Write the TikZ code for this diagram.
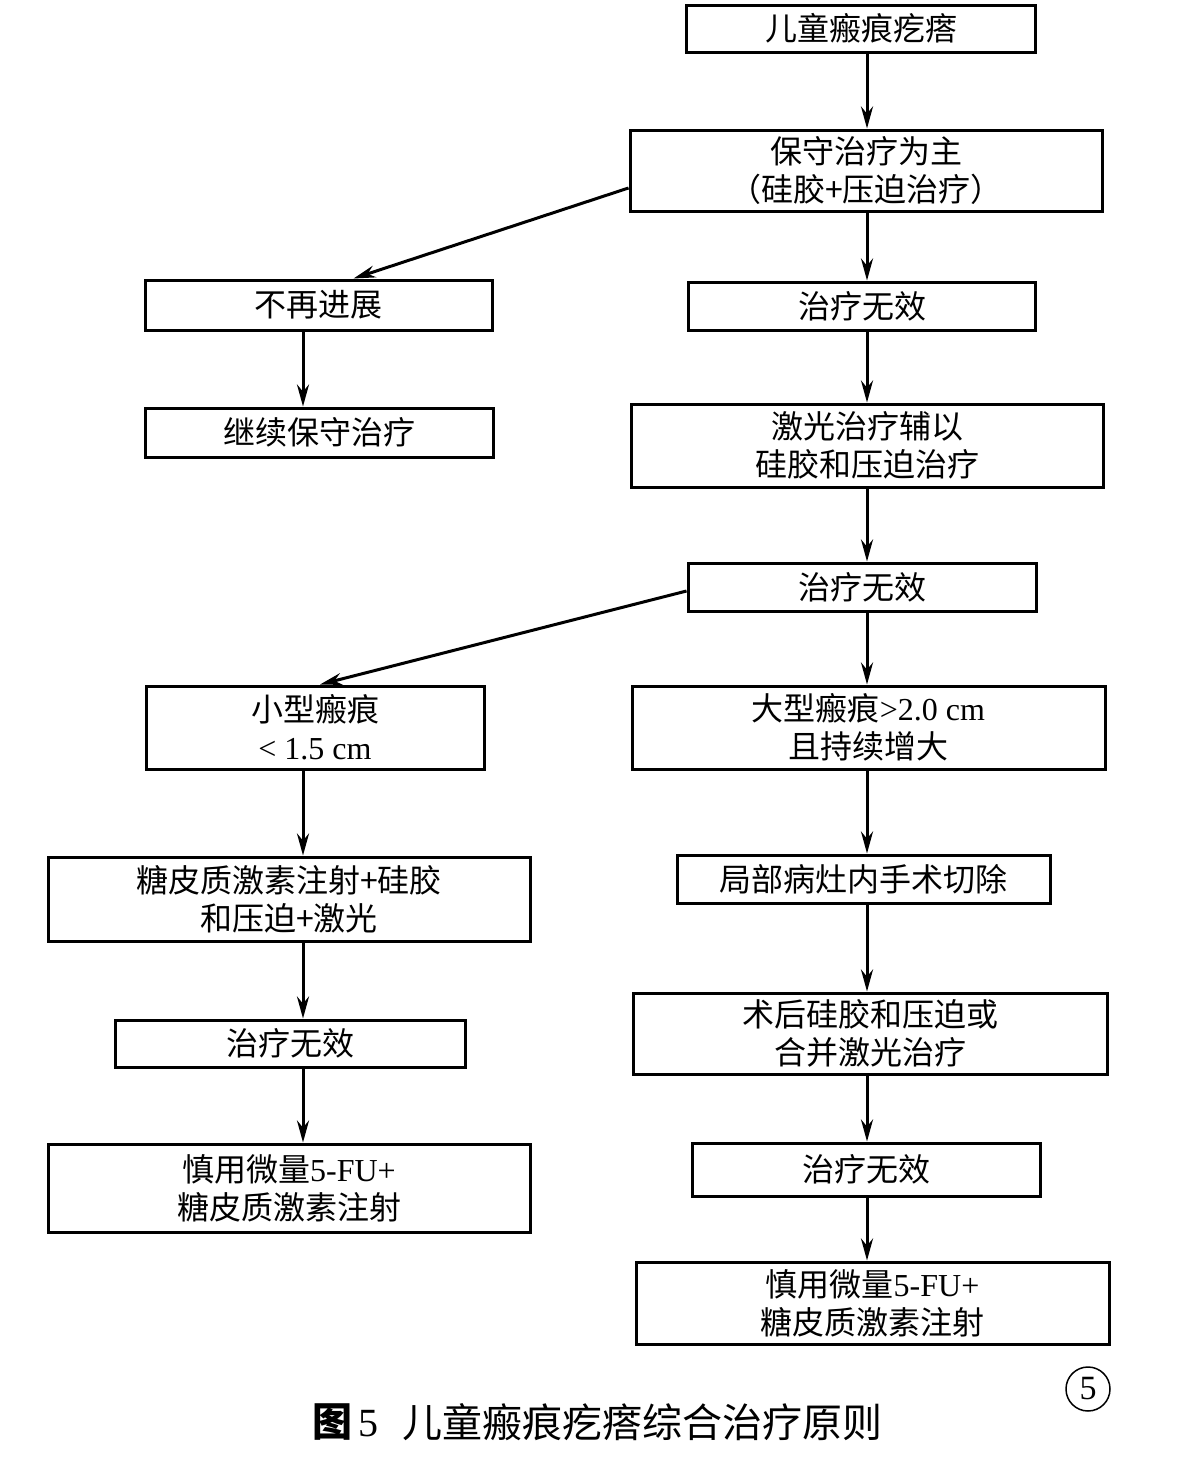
\documentclass[tikz,border=0pt]{standalone}
\usepackage{fontspec}
\setmainfont{Liberation Serif}
\newfontfamily\cjk{Noto Sans CJK SC}
\newcommand\latn[1]{{\rmfamily #1}}
\usetikzlibrary{arrows.meta}
\begin{document}
\begin{tikzpicture}[x=1pt,y=-1pt,
  box/.style={draw, line width=3pt, inner sep=0pt, align=center,
    font=\fontsize{32}{38}\selectfont\cjk},
  arr/.style={line width=3pt, -{Stealth[length=22pt,width=12pt]}}]
\useasboundingbox (0,0) rectangle (1176,1457);
% right column
\node[box, minimum width=349pt, minimum height=47pt] (b1) at (861,28.5) {儿童瘢痕疙瘩};
\node[box, minimum width=472pt, minimum height=81pt] (b2) at (866,170.5) {保守治疗为主\\（硅胶+压迫治疗）};
\node[box, minimum width=347pt, minimum height=48pt] (b4) at (862,306) {治疗无效};
\node[box, minimum width=472pt, minimum height=83pt] (b6) at (867,445.5) {激光治疗辅以\\硅胶和压迫治疗};
\node[box, minimum width=348pt, minimum height=48pt] (b7) at (862,587) {治疗无效};
\node[box, minimum width=473pt, minimum height=83pt] (b9) at (868.5,727.5) {大型瘢痕\latn{>2.0 cm}\\且持续增大};
\node[box, minimum width=373pt, minimum height=48pt] (b11) at (863.5,879) {局部病灶内手术切除};
\node[box, minimum width=474pt, minimum height=81pt] (b13) at (870,1033.5) {术后硅胶和压迫或\\合并激光治疗};
\node[box, minimum width=348pt, minimum height=53pt] (b15) at (866,1169.5) {治疗无效};
\node[box, minimum width=473pt, minimum height=82pt] (b16) at (872.5,1303) {慎用微量\latn{5-FU+}\\糖皮质激素注射};
% left column
\node[box, minimum width=347pt, minimum height=50pt] (b3) at (318.5,305) {不再进展};
\node[box, minimum width=348pt, minimum height=49pt] (b5) at (319,432.5) {继续保守治疗};
\node[box, minimum width=338pt, minimum height=83pt] (b8) at (315,727.5) {小型瘢痕\\\latn{< 1.5 cm}};
\node[box, minimum width=482pt, minimum height=84pt] (b10) at (289,899) {糖皮质激素注射+硅胶\\和压迫+激光};
\node[box, minimum width=350pt, minimum height=47pt] (b12) at (290,1043.5) {治疗无效};
\node[box, minimum width=482pt, minimum height=88pt] (b14) at (289,1188) {慎用微量\latn{5-FU+}\\糖皮质激素注射};
% guide coordinates for vertical connectors
\coordinate (rx) at (867,0);
\coordinate (lx) at (303,0);
% right column arrows
\draw[arr] (b1.south -| rx) -- (b2.north -| rx);
\draw[arr] (b2.south -| rx) -- (b4.north -| rx);
\draw[arr] (b4.south -| rx) -- (b6.north -| rx);
\draw[arr] (b6.south -| rx) -- (b7.north -| rx);
\draw[arr] (b7.south -| rx) -- (b9.north -| rx);
\draw[arr] (b9.south -| rx) -- (b11.north -| rx);
\draw[arr] (b11.south -| rx) -- (b13.north -| rx);
\draw[arr] (b13.south -| rx) -- (b15.north -| rx);
\draw[arr] (b15.south -| rx) -- (b16.north -| rx);
% left column arrows
\draw[arr] (b3.south -| lx) -- (b5.north -| lx);
\draw[arr] (b8.south -| lx) -- (b10.north -| lx);
\draw[arr] (b10.south -| lx) -- (b12.north -| lx);
\draw[arr] (b12.south -| lx) -- (b14.north -| lx);
% diagonal arrows
\draw[arr] ([yshift=-17.5pt]b2.west) -- ([xshift=35pt]b3.north);
\draw[arr] ([yshift=-4pt]b7.west) -- ([xshift=5pt]b8.north);
% circled number
\node[draw, circle, line width=1.5pt, minimum size=44pt, inner sep=0pt,
  font=\fontsize{34}{34}\selectfont] (num) at (1088,1389) {5};
% caption
\node[anchor=west, inner sep=0pt, font=\fontsize{40}{40}\selectfont] (cap1) at (312,1422) {{\cjk\bfseries 图}\hspace{6pt}5};
\node[anchor=west, inner sep=0pt, font=\fontsize{40}{40}\selectfont\cjk] (cap2) at (402,1422) {儿童瘢痕疙瘩综合治疗原则};
\end{tikzpicture}
\end{document}
